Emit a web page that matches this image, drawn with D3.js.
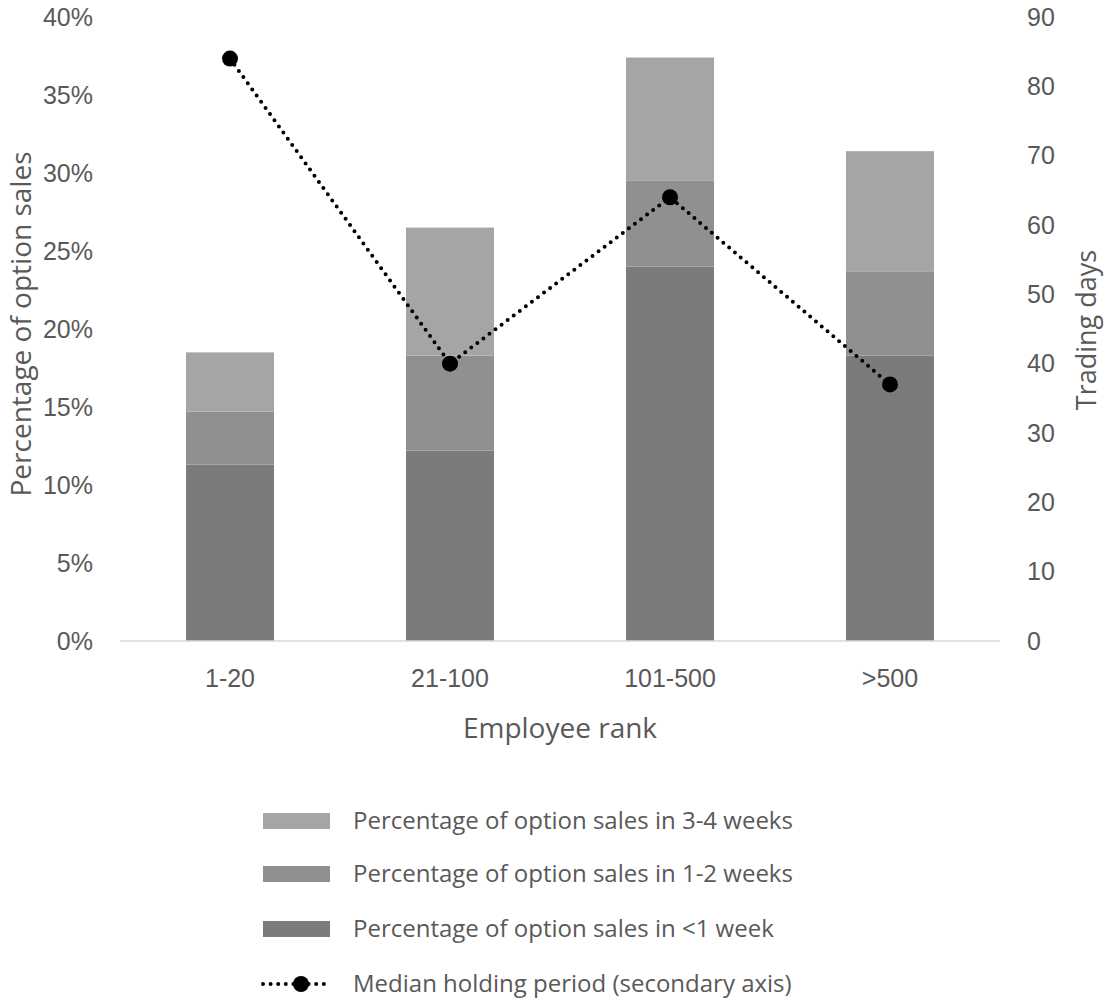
<!DOCTYPE html>
<html>
<head>
<meta charset="utf-8">
<script src="https://cdn.jsdelivr.net/npm/d3@7"></script>
<style>
  body { margin: 0; background: #fff; }
  svg { display: block; font-family: "Open Sans", "Liberation Sans", sans-serif; }
</style>
</head>
<body>
<svg id="chart" width="1105" height="1005"></svg>
<script>
// Employee rank groups
const categories = ["1-20", "21-100", "101-500", ">500"];
// Share of option sales by time since vesting (percent)
const under1Week = [11.3, 12.2, 24.0, 18.3];
const weeks1to2 = [3.4, 6.1, 5.5, 5.4];
const weeks3to4 = [3.8, 8.2, 7.9, 7.7];
// Median holding period in trading days
const medianDays = [84, 40, 64, 37];

const leftTicks = [0, 5, 10, 15, 20, 25, 30, 35, 40];
const rightTicks = [0, 10, 20, 30, 40, 50, 60, 70, 80, 90];

const seriesNames = [
  "Percentage of option sales in <1 week",
  "Percentage of option sales in 1-2 weeks",
  "Percentage of option sales in 3-4 weeks"
];
const colors = ["#7b7b7b", "#909090", "#a5a5a5"];
const textColor = "#595959";

const svg = d3.select("#chart");
const plot = { left: 120, right: 1000, top: 17, bottom: 641 };

const x = d3.scaleBand().domain(categories).range([plot.left, plot.right]).paddingInner(0.6).paddingOuter(0.3);
const yL = d3.scaleLinear().domain([0, 40]).range([plot.bottom, plot.top]);
const yR = d3.scaleLinear().domain([0, 90]).range([plot.bottom, plot.top]);

const rows = categories.map((c, i) => ({ cat: c, s0: under1Week[i], s1: weeks1to2[i], s2: weeks3to4[i] }));
const stacked = d3.stack().keys(["s0", "s1", "s2"])(rows);

// Stacked bars
svg.append("g").selectAll("g").data(stacked).join("g")
  .attr("fill", (d, i) => colors[i])
  .selectAll("rect").data(d => d).join("rect")
  .attr("x", d => x(d.data.cat))
  .attr("width", x.bandwidth())
  .attr("y", d => yL(d[1]))
  .attr("height", d => yL(d[0]) - yL(d[1]));

// Baseline
svg.append("line")
  .attr("x1", plot.left).attr("x2", plot.right)
  .attr("y1", plot.bottom).attr("y2", plot.bottom)
  .attr("stroke", "#d9d9d9").attr("stroke-width", 1.5);

// Left axis
const axisL = svg.append("g").attr("transform", `translate(${plot.left},0)`)
  .call(d3.axisLeft(yL).tickValues(leftTicks).tickFormat(d => d + "%").tickSize(0).tickPadding(27));
axisL.select(".domain").remove();
axisL.selectAll("text").attr("fill", textColor).style("font-size", "25px");

// Right axis
const axisR = svg.append("g").attr("transform", `translate(${plot.right},0)`)
  .call(d3.axisRight(yR).tickValues(rightTicks).tickSize(0).tickPadding(27));
axisR.select(".domain").remove();
axisR.selectAll("text").attr("fill", textColor).style("font-size", "25px");

// Category axis
const axisB = svg.append("g").attr("transform", `translate(0,${plot.bottom})`)
  .call(d3.axisBottom(x).tickSize(0).tickPadding(28));
axisB.select(".domain").remove();
axisB.selectAll("text").attr("fill", textColor).style("font-size", "25px");

// Axis titles
svg.append("text").attr("x", 560).attr("y", 738).attr("text-anchor", "middle")
  .attr("fill", textColor).style("font-size", "28px").text("Employee rank");
svg.append("text").attr("transform", "translate(31,324) rotate(-90)").attr("text-anchor", "middle")
  .attr("fill", textColor).style("font-size", "28px").text("Percentage of option sales");
svg.append("text").attr("transform", "translate(1096,330) rotate(-90)").attr("text-anchor", "middle")
  .attr("fill", textColor).style("font-size", "27px").text("Trading days");

// Median holding period line (secondary axis)
const line = d3.line().x((d, i) => x(categories[i]) + x.bandwidth() / 2).y(d => yR(d));
svg.append("path").datum(medianDays).attr("d", line)
  .attr("fill", "none").attr("stroke", "#000").attr("stroke-width", 4)
  .attr("stroke-linecap", "round").attr("stroke-dasharray", "0 7.6");
svg.append("g").selectAll("circle").data(medianDays).join("circle")
  .attr("cx", (d, i) => x(categories[i]) + x.bandwidth() / 2)
  .attr("cy", d => yR(d)).attr("r", 8).attr("fill", "#000");

// Legend
const legend = svg.append("g");
const legendItems = [
  { label: seriesNames[2], color: colors[2], y: 821 },
  { label: seriesNames[1], color: colors[1], y: 874 },
  { label: seriesNames[0], color: colors[0], y: 929 }
];
legendItems.forEach(it => {
  legend.append("rect").attr("x", 263).attr("y", it.y - 8).attr("width", 67).attr("height", 16).attr("fill", it.color);
  legend.append("text").attr("x", 353).attr("y", it.y).attr("dy", "0.35em")
    .attr("fill", textColor).style("font-size", "24px").text(it.label);
});
legend.append("line").attr("x1", 263).attr("x2", 330).attr("y1", 984).attr("y2", 984)
  .attr("stroke", "#000").attr("stroke-width", 4).attr("stroke-linecap", "round").attr("stroke-dasharray", "0 7.6");
legend.append("circle").attr("cx", 301).attr("cy", 984).attr("r", 8).attr("fill", "#000");
legend.append("text").attr("x", 353).attr("y", 984).attr("dy", "0.35em")
  .attr("fill", textColor).style("font-size", "24px").text("Median holding period (secondary axis)");
</script>
</body>
</html>
